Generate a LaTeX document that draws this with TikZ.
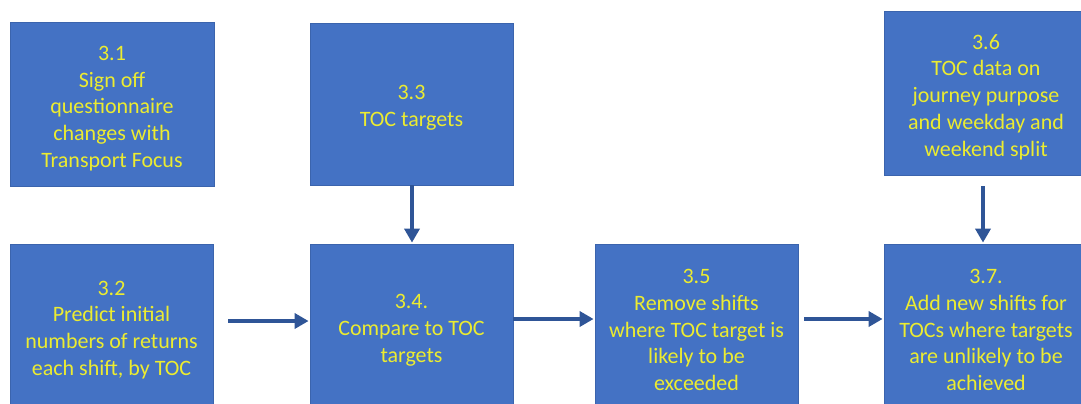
\documentclass[tikz,border=0pt]{standalone}
\usepackage{fontspec}
\setmainfont{Carlito}
\usetikzlibrary{arrows.meta}
\definecolor{boxfill}{HTML}{4472C4}
\definecolor{boxline}{HTML}{3B64AD}
\definecolor{txt}{RGB}{236,236,48}
\definecolor{arrcol}{HTML}{2F5597}
\tikzset{
  stepbox/.style={draw=boxline, line width=0.8bp, fill=boxfill,
    minimum width=204bp, minimum height=164bp, inner sep=0pt},
  boxtext/.style={text=txt, align=center, inner sep=0pt, yshift=-4bp,
    font=\fontsize{22bp}{26.8bp}\selectfont},
  arr/.style={draw=arrcol, line width=3.6bp, -{Triangle[length=14bp,width=15bp]}}
}
\begin{document}
\begin{tikzpicture}[x=1bp,y=-1bp]
\useasboundingbox (0,0) rectangle (1081,403);
\clip (0,0) rectangle (1081,403);
\node[stepbox, label={[boxtext]center:{3.1\\Sign off\\questionnaire\\changes with\\Transport Focus}}] (b31) at (112,104.5) {};
\node[stepbox, minimum width=203bp, minimum height=162bp, label={[boxtext]center:{3.3\\TOC targets}}] (b33) at (411.5,104) {};
\node[stepbox, label={[boxtext]center:{3.6\\TOC data on\\journey purpose\\and weekday and\\weekend split}}] (b36) at (986,93) {};
\node[stepbox, minimum width=203bp, label={[boxtext]center:{3.2\\Predict initial\\numbers of returns\\each shift, by TOC}}] (b32) at (111.5,326) {};
\node[stepbox, minimum width=203bp, label={[boxtext]center:{3.4.\\Compare to TOC\\targets}}] (b34) at (411.5,326) {};
\node[stepbox, minimum width=203bp, label={[boxtext]center:{3.5\\Remove shifts\\where TOC target is\\likely to be\\exceeded}}] (b35) at (696.5,326) {};
\node[stepbox, label={[boxtext]center:{3.7.\\Add new shifts for\\TOCs where targets\\are unlikely to be\\achieved}}] (b37) at (986,326) {};
\draw[arr, shorten >=1bp] ([xshift=0.5bp]b33.south) -- ([xshift=0.5bp]b34.north);
\draw[arr, shorten <=11bp, shorten >=1bp] ([xshift=-3bp]b36.south) -- ([xshift=-3bp]b37.north);
\draw[arr, shorten <=15bp, shorten >=1bp] ([yshift=5bp]b32.east) -- ([yshift=5bp]b34.west);
\draw[arr, shorten >=1bp] ([yshift=7bp]b34.east) -- ([yshift=7bp]b35.west);
\draw[arr, shorten <=6bp, shorten >=1bp] ([yshift=7bp]b35.east) -- ([yshift=7bp]b37.west);
\end{tikzpicture}
\end{document}
